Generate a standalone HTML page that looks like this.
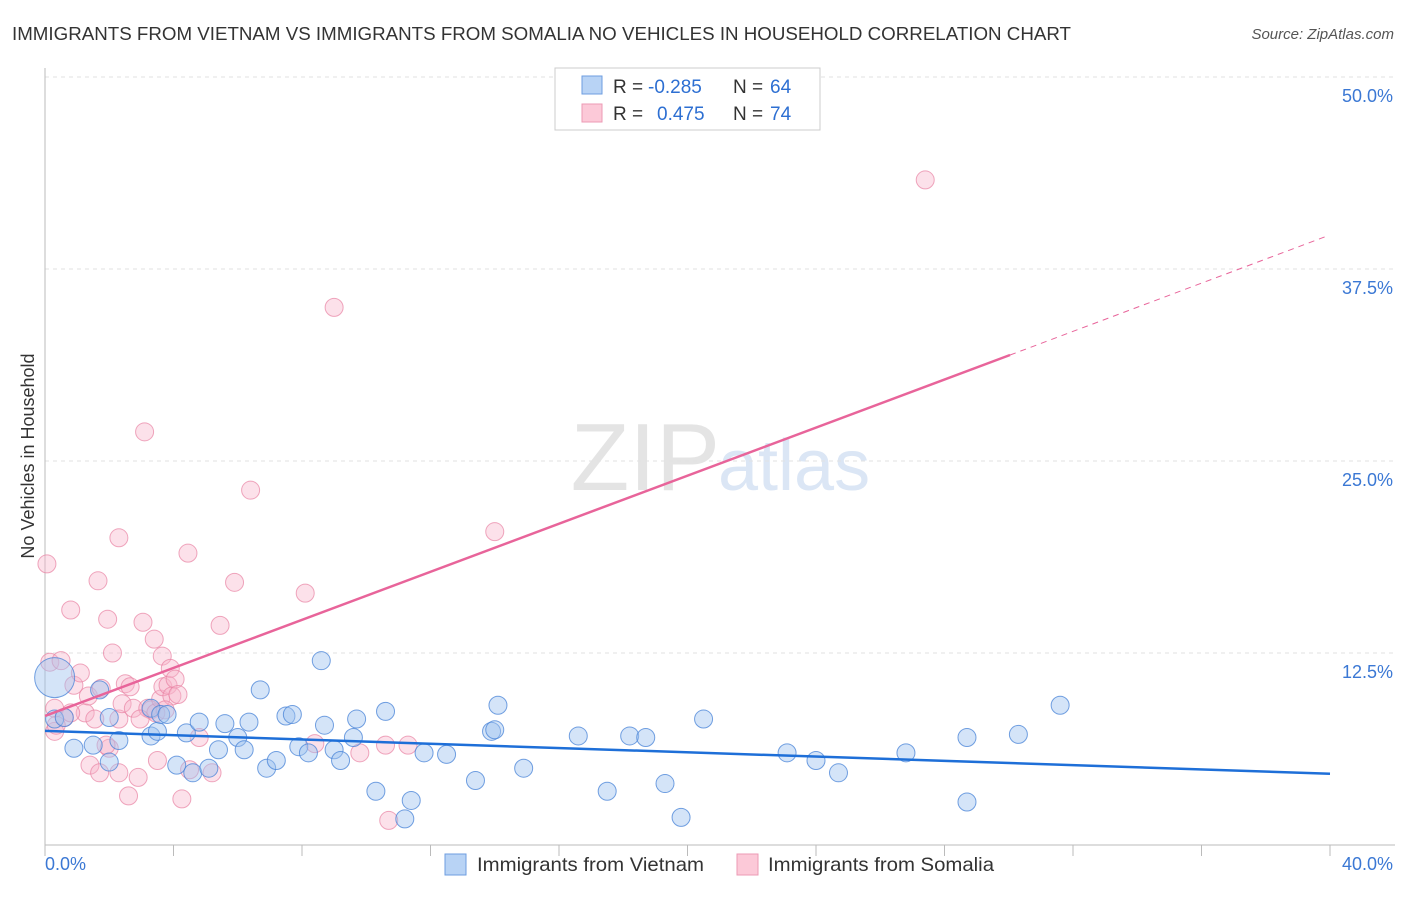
<!DOCTYPE html>
<html><head><meta charset="utf-8"><style>
body{margin:0;background:#fff;font-family:"Liberation Sans",sans-serif}
svg text{font-family:"Liberation Sans",sans-serif}
</style></head><body>
<svg id="c" width="1406" height="892">
<text x="12" y="40" font-size="18" fill="#333" textLength="1059" lengthAdjust="spacingAndGlyphs">IMMIGRANTS FROM VIETNAM VS IMMIGRANTS FROM SOMALIA NO VEHICLES IN HOUSEHOLD CORRELATION CHART</text>
<text x="1394" y="39" font-size="15" fill="#555" font-style="italic" text-anchor="end">Source: ZipAtlas.com</text>
<text x="34" y="456" font-size="18" fill="#333" transform="rotate(-90 34 456)" text-anchor="middle">No Vehicles in Household</text>
<text x="720" y="490" font-size="96" fill="#e4e4e4" text-anchor="end" font-family="Liberation Serif">ZIP</text>
<text x="718" y="490" font-size="72" fill="#dbe6f5">atlas</text>
<g id="grid"></g><g id="pts"></g><g id="lines"></g>
<g>
<rect x="555" y="68" width="265" height="62" fill="#fff" stroke="#ccc"/>
<rect x="582" y="76" width="20" height="18" fill="#b8d3f5" stroke="#6e9ee0"/>
<rect x="582" y="104" width="20" height="18" fill="#fcc9d8" stroke="#ec9ab4"/>
<text x="613" y="93" font-size="19" fill="#333">R =</text>
<text x="648" y="93" font-size="19" fill="#2d6fd2">-0.285</text>
<text x="733" y="93" font-size="19" fill="#333">N =</text>
<text x="770" y="93" font-size="19" fill="#2d6fd2">64</text>
<text x="613" y="120" font-size="19" fill="#333">R =</text>
<text x="657" y="120" font-size="19" fill="#2d6fd2">0.475</text>
<text x="733" y="120" font-size="19" fill="#333">N =</text>
<text x="770" y="120" font-size="19" fill="#2d6fd2">74</text>
</g>
<g>
<rect x="445" y="854" width="21" height="21" fill="#b8d3f5" stroke="#6e9ee0"/>
<text x="477" y="871" font-size="19.5" fill="#333" textLength="227" lengthAdjust="spacingAndGlyphs">Immigrants from Vietnam</text>
<rect x="737" y="854" width="21" height="21" fill="#fcc9d8" stroke="#ec9ab4"/>
<text x="768" y="871" font-size="19.5" fill="#333" textLength="226" lengthAdjust="spacingAndGlyphs">Immigrants from Somalia</text>
</g>
</svg>
<script>
const yTicks=[12.5,25,37.5,50];
const yTickLabels=["12.5%","25.0%","37.5%","50.0%"];
const xTickLabels=["0.0%","40.0%"];
const blueX=[0.3,0.3,0.6,0.9,1.5,1.7,2.0,2.0,2.3,3.3,3.3,3.5,3.6,3.8,4.1,4.4,4.6,4.8,5.1,5.4,5.6,6.0,6.2,6.35,6.7,6.9,7.2,7.5,7.7,7.9,8.2,8.6,8.7,9.0,9.2,9.6,9.7,10.3,10.6,11.2,11.4,11.8,12.5,13.4,13.9,14.0,14.1,14.9,16.6,17.5,18.2,18.7,19.3,19.8,20.5,23.1,24.0,24.7,26.8,28.7,28.7,30.3,31.6];
const blueY=[10.9,8.2,8.3,6.3,6.5,10.1,8.3,5.4,6.8,7.1,8.9,7.4,8.5,8.5,5.2,7.3,4.7,8.0,5.0,6.2,7.9,7.0,6.2,8.0,10.1,5.0,5.5,8.4,8.5,6.4,6.0,12.0,7.8,6.2,5.5,7.0,8.2,3.5,8.7,1.7,2.9,6.0,5.9,4.2,7.4,7.5,9.1,5.0,7.1,3.5,7.1,7.0,4.0,1.8,8.2,6.0,5.5,4.7,6.0,7.0,2.8,7.2,9.1];
const pinkX=[0.06,0.15,0.3,0.3,0.5,0.6,0.8,0.9,1.1,1.25,1.35,1.4,1.55,1.65,1.7,1.75,1.95,2.0,2.1,2.3,2.3,2.3,2.4,2.5,2.6,2.75,2.9,3.05,3.1,3.2,3.3,3.4,3.45,3.5,3.6,3.65,3.67,3.83,3.9,3.95,4.05,4.14,4.26,4.45,4.5,4.8,5.2,5.45,5.9,6.4,8.1,8.4,9.0,9.8,10.7,10.6,11.3,14.0,27.4,0.35,0.8,2.65,1.9,3.74,2.96];
const pinkY=[18.3,11.9,8.9,7.4,12.0,8.3,15.3,10.4,11.2,8.6,9.7,5.2,8.2,17.2,4.7,10.2,14.7,6.3,12.5,20.0,8.2,4.7,9.2,10.5,3.2,8.9,4.4,14.5,26.9,8.9,8.8,13.4,8.6,5.5,9.5,12.3,10.3,10.4,11.5,9.7,10.8,9.8,3.0,19.0,4.9,7.0,4.7,14.3,17.1,23.1,16.4,6.6,35.0,6.0,1.6,6.5,6.5,20.4,43.3,7.8,8.6,10.3,6.5,8.8,8.2];
const ns="http://www.w3.org/2000/svg";
const X=v=>45+v/40*1285, Y=v=>845-v/12.5*192;
function mk(t,a,p){const e=document.createElementNS(ns,t);for(const k in a)e.setAttribute(k,a[k]);p.appendChild(e);return e;}
const grid=document.getElementById('grid');
yTicks.forEach((t,i)=>{
 const l=mk('line',{x1:45,x2:1395,y1:Y(t),y2:Y(t),stroke:'#e2e2e2','stroke-dasharray':'4,4'},grid);
 
 
 const tx=mk('text',{x:1393,y:Y(t)+25,'font-size':18,fill:'#3b78d4','text-anchor':'end'},grid);
 tx.textContent=yTickLabels[i];
 
 
});
mk('line',{x1:45,x2:45,y1:68,y2:845,stroke:'#bbb'},grid);
mk('line',{x1:45,x2:1395,y1:845,y2:845,stroke:'#bbb'},grid);
for(let i=0;i<=10;i++){mk('line',{x1:X(i*4),x2:X(i*4),y1:845,y2:856,stroke:'#bbb'},grid);}
[[0,'start',45],[40,'end',1393]].forEach((d,i)=>{const t=mk('text',{x:d[2],y:870,'font-size':18,fill:'#3b78d4','text-anchor':d[1]},grid);t.textContent=xTickLabels[i];

});
const pts=document.getElementById('pts');
pinkX.forEach((x,i)=>{const c=mk('circle',{cx:X(x),cy:Y(pinkY[i]),r:9,fill:'rgba(248,180,202,0.4)',stroke:'rgba(232,130,163,0.7)'},pts);

});
blueX.forEach((x,i)=>{const c=mk('circle',{cx:X(x),cy:Y(blueY[i]),r:i==0?20:9,fill:'rgba(160,196,240,0.45)',stroke:'rgba(70,130,215,0.75)'},pts);

});
const lines=document.getElementById('lines');
const bl=mk('line',{x1:X(0),y1:Y(7.43),x2:X(40),y2:Y(4.64),stroke:'#1e6fd8','stroke-width':2.5},lines);


const pl=mk('line',{x1:X(0),y1:Y(8.4),x2:X(30.04),y2:Y(31.9),stroke:'#e8649a','stroke-width':2.5},lines);


const pd=mk('line',{x1:X(30.04),y1:Y(31.9),x2:X(39.85),y2:Y(39.6),stroke:'#e8649a','stroke-width':1,'stroke-dasharray':'6,5'},lines);


</script>
</body></html>
